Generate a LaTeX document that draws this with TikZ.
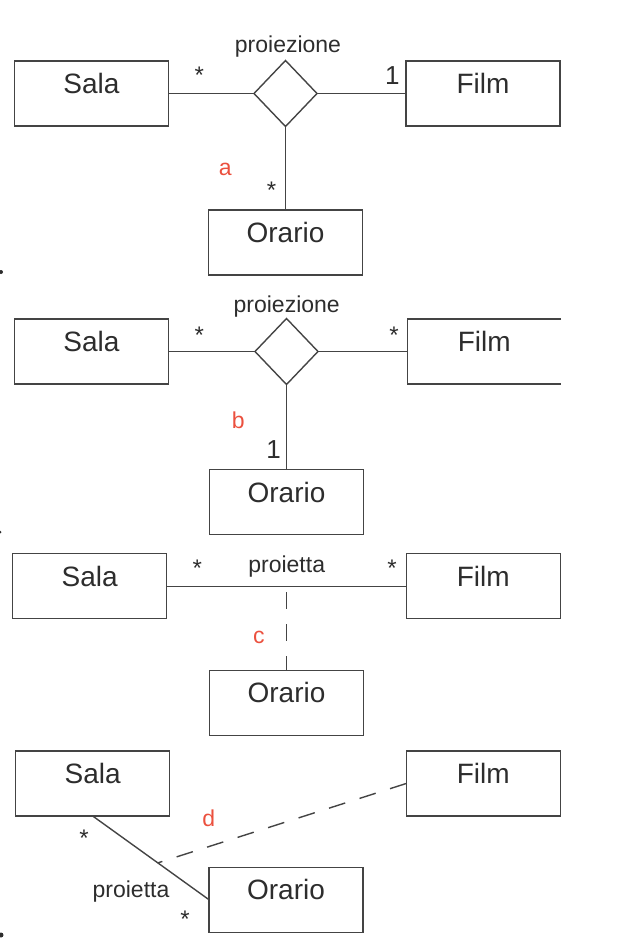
\documentclass[tikz,border=0pt]{standalone}
\usepackage{fontspec}
\setmainfont{Liberation Sans}
\definecolor{LineGray}{RGB}{68, 68, 68}
\definecolor{TextGray}{RGB}{45, 45, 45}
\definecolor{TagRed}{RGB}{235, 80, 62}
\usepackage{tikz}
\usetikzlibrary{positioning, shapes.geometric, calc}
\newcommand{\fsName}{\fontsize{28}{30}\selectfont}
\newcommand{\fsOne}{\fontsize{26}{28}\selectfont}
\newcommand{\fsMult}{\fontsize{24}{26}\selectfont}
\newcommand{\fsRel}{\fontsize{23}{25}\selectfont}
\tikzset{
  cls/.style={rectangle, draw=LineGray, line width=1.4pt, outer sep=0pt,
              minimum width=154pt, minimum height=65pt, inner sep=0pt,
              font=\fsName, text=TextGray, text height=18pt, text depth=18pt},
  rel/.style={diamond, draw=LineGray, line width=1.4pt, outer sep=0pt,
              minimum width=63pt, minimum height=66pt, inner sep=0pt},
  lnk/.style={draw=LineGray, line width=1.4pt},
  dlnk/.style={lnk, dash pattern=on 17pt off 15pt},
  mult/.style={anchor=base, inner sep=0pt, font=\fsMult, text=TextGray},
  one/.style={anchor=base, inner sep=0pt, font=\fsOne, text=TextGray},
  relname/.style={anchor=base, inner sep=0pt, font=\fsRel, text=TextGray},
  tag/.style={anchor=base, inner sep=0pt, font=\fsRel, text=TagRed},
}
\begin{document}
\begin{tikzpicture}[x=1pt, y=-1pt]
  \useasboundingbox (0,0) rectangle (642,940);

  % a) ternary association
  \node[cls] (sa) at (91.5,93.5) {Sala};
  \node[rel, right=85.5pt of sa] (da) {};
  \node[cls, right=89pt of da] (fa) {Film};
  \node[cls, below=83.5pt of da] (oa) {Orario};
  \draw[lnk] (sa) -- (da) -- (fa);
  \draw[lnk] (da) -- (oa);
  \node[relname] (pa) at (288,52.3) {proiezione};
  \node[mult] (ma1) at (199.4,83.7) {*};
  \node[one]  (ma2) at (392.3,84.6) {1};
  \node[mult] (ma3) at (271.5,198.7) {*};
  \node[tag]  (ta) at (225.2,175.3) {a};

  % b) ternary association
  \node[cls] (sb) at (91.5,351.5) {Sala};
  \node[rel, right=86.5pt of sb] (db) {};
  \node[cls, draw=none, minimum width=153.5pt, right=89.5pt of db] (fb) {Film};
  \draw[lnk] (fb.north east) -- (fb.north west) -- (fb.south west) -- (fb.south east);
  \node[cls, below=85pt of db] (ob) {Orario};
  \draw[lnk] (sb) -- (db) -- (fb);
  \draw[lnk] (db) -- (ob);
  \node[relname] (pb) at (286.7,312) {proiezione};
  \node[mult] (mb1) at (199.4,343) {*};
  \node[mult] (mb2) at (394,343) {*};
  \node[one]  (mb3) at (273.5,458.3) {1};
  \node[tag]  (tb) at (238.3,428.2) {b};

  % c) association class
  \node[cls] (sc) at (89.7,586.2) {Sala};
  \node[cls, right=239.6pt of sc] (fc) {Film};
  \coordinate (mc) at ($(sc.east)!0.5!(fc.west)$);
  \node[cls, below=84pt of mc] (oc) {Orario};
  \draw[lnk] (sc) -- (fc);
  \draw[dlnk, dash phase=26pt] (mc) -- (oc);
  \node[relname] (pc) at (286.7,572) {proietta};
  \node[mult] (mc1) at (197.4,576.4) {*};
  \node[mult] (mc2) at (392,576.4) {*};
  \node[tag]  (tc) at (258.8,643.3) {c};

  % d) association class on Sala--Orario
  \node[cls] (sd) at (92.7,783.5) {Sala};
  \node[cls, right=236.5pt of sd] (fd) {Film};
  \node[cls] (od) at (286,899.7) {Orario};
  \draw[lnk] (sd.south) -- (od.west);
  \coordinate (md) at ($(sd.south)!0.56!(od.west)$);
  \draw[dlnk] (fd.west) -- (md);
  \node[relname] (pd) at (131,897.7) {proietta};
  \node[mult] (md1) at (84,846.4) {*};
  \node[mult] (md2) at (185,927) {*};
  \node[tag]  (td) at (208.8,826.5) {d};

  % list bullets cut at the edge
  \fill[TextGray] (1,272) circle (2pt);
  \fill[TextGray] (0,532) circle (1.5pt);
  \fill[TextGray] (1,935) circle (2.5pt);
\end{tikzpicture}
\end{document}
